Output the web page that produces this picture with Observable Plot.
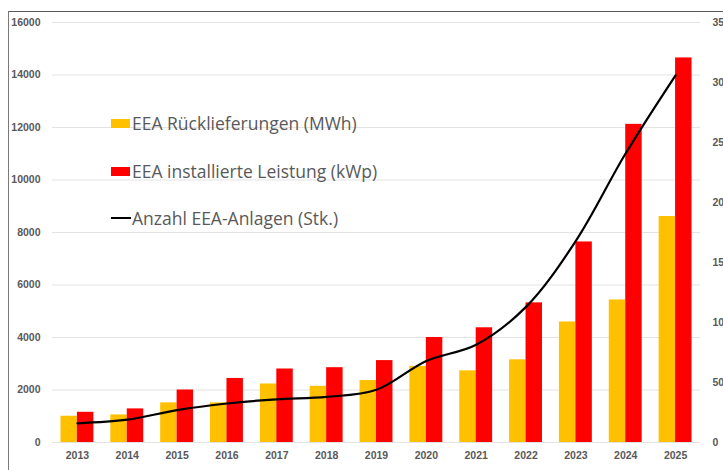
<!DOCTYPE html>
<html>
<head>
<meta charset="utf-8">
<script src="https://cdn.jsdelivr.net/npm/d3@7"></script>
<script src="https://cdn.jsdelivr.net/npm/@observablehq/plot@0.6"></script>
<style>
  html, body { margin: 0; padding: 0; background: #fff; overflow: hidden; }
  #wrap { position: relative; width: 723px; height: 470px; overflow: hidden; }
  #border { position: absolute; left: 8px; top: 11px; width: 1000px; height: 1000px;
            border-left: 1px solid #7a7a7a; border-top: 1px solid #5a5a5a; pointer-events: none; }
  #legend { position: absolute; left: 111px; top: 111px; font-family: "Open Sans", sans-serif;
            font-size: 17.5px; color: #595959; }
  .item { position: absolute; white-space: nowrap; display: flex; align-items: center; height: 24px; }
  .sw { width: 19px; height: 9px; margin-right: 2px; }
  .ln { width: 20px; height: 2px; background: #000; margin-right: 1px; }
</style>
</head>
<body>
<div id="wrap">
  <div id="chart"></div>
  <div id="legend"></div>
  <div id="border"></div>
</div>
<script>
const years = ["2013","2014","2015","2016","2017","2018","2019","2020","2021","2022","2023","2024","2025"];
const rueckMWh = [1000, 1050, 1510, 1510, 2230, 2140, 2360, 2900, 2730, 3150, 4590, 5430, 8610];
const leistungKWp = [1150, 1280, 2000, 2440, 2800, 2850, 3120, 4000, 4370, 5320, 7640, 12120, 14650];
const anlagenStk = [16, 19, 27, 32.5, 36, 38, 44, 68, 81.5, 113, 168, 241, 306];
const leftTicks = [0, 2000, 4000, 6000, 8000, 10000, 12000, 14000, 16000];
const rightTicks = [0, 50, 100, 150, 200, 250, 300, 350];
const seriesNames = ["EEA Rücklieferungen (MWh)", "EEA installierte Leistung (kWp)", "Anzahl EEA-Anlagen (Stk.)"];
const colors = ["#FFC000", "#FF0000", "#000000"];

const leftMax = 16000, rightMax = 350;
const k = leftMax / rightMax;

const W = 723, H = 470;
const mL = 52, mR = 23, mT = 22, mB = 28;
const n = years.length;
const pIn = 0.34, pOut = 0.17;
const step = (W - mL - mR) / (n - pIn + 2 * pOut);
const bw = step * (1 - pIn);

const rows = years.map((y, i) => ({year: y, r: rueckMWh[i], l: leistungKWp[i], a: anlagenStk[i]}));

const font = "'Liberation Sans', Arial, sans-serif";

const chart = Plot.plot({
  width: W, height: H,
  marginLeft: mL, marginRight: mR, marginTop: mT, marginBottom: mB,
  style: {fontFamily: font, background: "#fff", overflow: "hidden"},
  x: {type: "band", domain: years, paddingInner: pIn, paddingOuter: pOut, round: false, label: null},
  y: {domain: [0, leftMax], label: null},
  marks: [
    Plot.gridY(leftTicks, {stroke: "#e3e3e3", strokeOpacity: 1, strokeWidth: 1.2}),
    Plot.barY(rows, {x: "year", y: "r", fill: colors[0], insetRight: bw / 2, insetLeft: 0}),
    Plot.barY(rows, {x: "year", y: "l", fill: colors[1], insetLeft: bw / 2, insetRight: 0}),
    Plot.line(rows, {x: "year", y: d => d.a * k, stroke: colors[2], strokeWidth: 2.2, curve: "catmull-rom"}),
    Plot.axisY({ticks: leftTicks, tickSize: 0, tickPadding: 12, tickFormat: d => String(d),
                fontSize: 10.5, fontWeight: "bold", fill: "#595959", label: null}),
    Plot.axisX({tickSize: 0, tickPadding: 9, fontSize: 10.5, fontWeight: "bold", fill: "#595959", label: null}),
    Plot.text(rightTicks, {y: d => d * k, text: d => String(d), frameAnchor: "right", textAnchor: "start",
                dx: 12, fontSize: 10.5, fontWeight: "bold", fill: "#595959"})
  ]
});
document.getElementById("chart").appendChild(chart);

// legend
const legend = document.getElementById("legend");
const tops = [0, 48, 95];
seriesNames.forEach((name, i) => {
  const it = document.createElement("div");
  it.className = "item";
  it.style.top = tops[i] + "px";
  const sw = document.createElement("div");
  if (i < 2) { sw.className = "sw"; sw.style.background = colors[i]; }
  else { sw.className = "ln"; sw.style.background = colors[i]; }
  it.appendChild(sw);
  const t = document.createElement("span");
  t.textContent = name;
  it.appendChild(t);
  legend.appendChild(it);
});
</script>
</body>
</html>
